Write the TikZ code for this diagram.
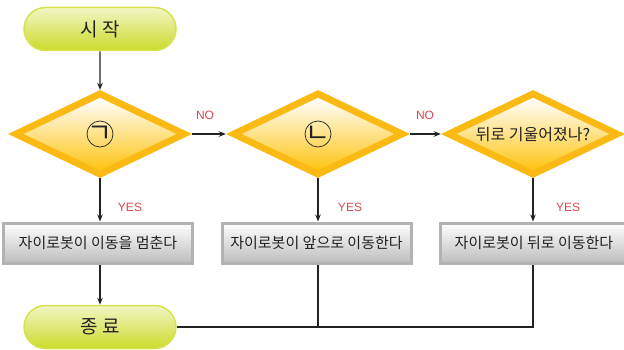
\documentclass[tikz,border=0pt]{standalone}
\usepackage{fontspec}
\setmainfont{Noto Sans CJK KR}
\newfontfamily\latinfont{Liberation Sans}
\usetikzlibrary{shapes.geometric,shapes.misc,arrows.meta,calc}
\definecolor{limeF}{HTML}{CCDB2B}
\definecolor{limeE}{HTML}{D6E24E}
\definecolor{limeT}{HTML}{F1F6C4}
\definecolor{dOrange}{HTML}{FBB914}
\definecolor{dYel}{HTML}{FEC411}
\definecolor{boxE}{HTML}{B2B2B2}
\definecolor{boxB}{HTML}{BDBDBD}
\definecolor{boxM}{HTML}{CFCFCF}
\definecolor{lblRed}{HTML}{D8464E}
\definecolor{ink}{HTML}{222222}
\begin{document}
\begin{tikzpicture}[x=1pt,y=1pt,
  pill/.style={rounded rectangle, minimum width=152pt, minimum height=43pt, inner sep=0pt,
     draw=limeE, line width=1.5pt, top color=limeT, middle color=limeF, bottom color=limeF,
     font=\fontsize{19}{20}\selectfont, text=ink},
  dia/.style={diamond, minimum width=184pt, minimum height=88pt, inner sep=0pt, aspect=2.09, fill=dOrange},
  procbox/.style={rectangle, minimum width=#1, minimum height=40pt, inner sep=0pt,
     draw=boxE, line width=3pt, top color=white, middle color=boxM, bottom color=boxB,
     font=\fontsize{15}{16}\selectfont, text=ink},
  circmark/.style={circle, draw=ink, line width=0.7pt, minimum size=26pt, inner sep=0pt},
  jamo/.style={font=\fontsize{27}{28}\selectfont, text=ink, inner sep=0pt},
  lbl/.style={font=\latinfont\fontsize{12}{13}\selectfont, text=lblRed, inner sep=0pt},
  arr/.style={-{Stealth[length=7pt,width=5.5pt]}, line width=1.2pt, draw=ink},
  conn/.style={line width=1.2pt, draw=ink}]
\useasboundingbox (0,0) rectangle (624,349);

% terminals
\node[pill] (s) at (100,320) {시 작};
\node[pill] (e) at (100,22) {종 료};

% diamonds
\foreach \n/\cx in {d1/100, d2/318, d3/533}{
  \node[dia] (\n) at (\cx,215) {};
  \shade[top color=white, middle color=dYel, bottom color=dYel]
     ($(\n.north)+(0,-8)$) -- ($(\n.east)+(-16,0)$) -- ($(\n.south)+(0,8)$) -- ($(\n.west)+(16,0)$) -- cycle;
}
\node[circmark] (c1) at (d1) {};
\node[jamo] (k1) at (d1) {ㄱ};
\node[circmark] (c2) at (d2) {};
\node[jamo] (k2) at (d2) {ㄴ};
\node[font=\fontsize{16}{17}\selectfont, text=ink, inner sep=0pt] (t3) at (533,214) {뒤로 기울어졌나?};

% boxes
\node[procbox=189pt] (b1) at (98,106) {자이로봇이 이동을 멈춘다};
\node[procbox=189pt] (b2) at (316.5,106) {자이로봇이 앞으로 이동한다};
\node[procbox=187pt] (b3) at (534,106) {자이로봇이 뒤로 이동한다};

% connectors
\draw[arr] (s) -- (d1);
\draw[arr] (d1.east) -- (d2.west);
\draw[arr] (d2.east) -- (d3.west);
\draw[arr] (d1.south) -- (d1.south |- b1.north);
\draw[arr] (d2.south) -- (d2.south |- b2.north);
\draw[arr] (d3.south) -- (d3.south |- b3.north);
\draw[arr] (b1.south -| e) -- (e.north);
\coordinate (j2) at (e.east -| d2);
\draw[conn] (b2.south -| d2) -- (j2);
\draw[conn] (b3.south -| d3) |- (e.east);

% labels
\node[lbl] (no1) at (205,234) {NO};
\node[lbl] (no2) at (425,234) {NO};
\node[lbl] (y1) at (130,142) {YES};
\node[lbl] (y2) at (350,142) {YES};
\node[lbl] (y3) at (568,142) {YES};
\end{tikzpicture}
\end{document}
